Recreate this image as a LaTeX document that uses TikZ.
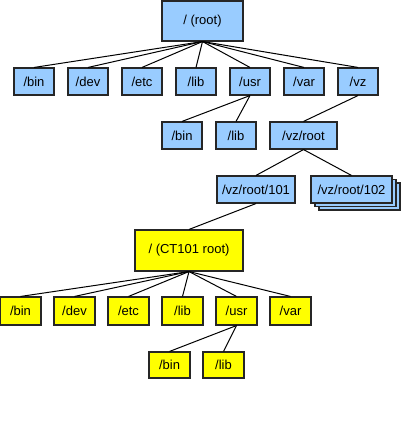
\documentclass[tikz,border=0pt]{standalone}
\usepackage{fontspec}
\setmainfont{Liberation Sans}
\usetikzlibrary{shadows}
\definecolor{dirblue}{HTML}{99CCFF}
\definecolor{diryel}{HTML}{FFFF00}
\tikzset{
  box/.style={draw=black!85, line width=1.1pt, inner sep=0pt, font=\fontsize{13}{15}\selectfont, minimum height=27pt},
  bluebox/.style={box, fill=dirblue},
  yelbox/.style={box, fill=diryel},
  link/.style={draw=black, line width=1pt}
}
\begin{document}
\begin{tikzpicture}[x=1pt,y=-1pt]
\useasboundingbox (0,0) rectangle (400,433);
% connectors first (behind boxes) use named coordinates after nodes via layers
% host tree
\node[bluebox, minimum width=81pt, minimum height=40pt] (root) at (202.5,21) {/ (root)};
\foreach \n/\t/\x in {hbin/bin/34, hdev/dev/88, hetc/etc/142, hlib/lib/196, husr/usr/250, hvar/var/304, hvz/vz/358}{
  \node[bluebox, minimum width=40pt] (\n) at (\x,81.5) {/\t};
}
\node[bluebox, minimum width=40pt] (ubin) at (182,135.5) {/bin};
\node[bluebox, minimum width=40pt] (ulib) at (236,135.5) {/lib};
\node[bluebox, minimum width=67pt] (vzroot) at (303.5,135.5) {/vz/root};
\node[bluebox, minimum width=78pt] (ct101) at (256,189.5) {/vz/root/101};
\node[bluebox, minimum width=81pt, double copy shadow={shadow xshift=4pt, shadow yshift=-3.5pt, draw=black!85, line width=1.1pt, fill=dirblue}] (ct102) at (351.5,189.5) {/vz/root/102};
% container tree
\node[yelbox, minimum width=108pt, minimum height=41pt] (croot) at (189,250.5) {/ (CT101 root)};
\foreach \n/\t/\x in {cbin/bin/20.5, cdev/dev/74.5, cetc/etc/128.5, clib/lib/182.5, cusr/usr/236.5, cvar/var/290.5}{
  \node[yelbox, minimum width=41pt, minimum height=28pt] (\n) at (\x,311) {/\t};
}
\node[yelbox, minimum width=41pt, minimum height=26pt] (cubin) at (169.5,365) {/bin};
\node[yelbox, minimum width=41pt, minimum height=26pt] (culib) at (223.5,365) {/lib};
% connectors
\foreach \c in {hbin,hdev,hetc,hlib,husr,hvar,hvz}{ \draw[link] (root.south) -- (\c.north); }
\draw[link] (husr.south) -- (ubin.north);
\draw[link] (husr.south) -- (ulib.north);
\draw[link] (hvz.south) -- (vzroot.north);
\draw[link] (vzroot.south) -- (ct101.north);
\draw[link] (vzroot.south) -- (ct102.north);
\draw[link] (ct101.south) -- (croot.north);
\foreach \c in {cbin,cdev,cetc,clib,cusr,cvar}{ \draw[link] (croot.south) -- (\c.north); }
\draw[link] (cusr.south) -- (cubin.north);
\draw[link] (cusr.south) -- (culib.north);
\end{tikzpicture}
\end{document}
